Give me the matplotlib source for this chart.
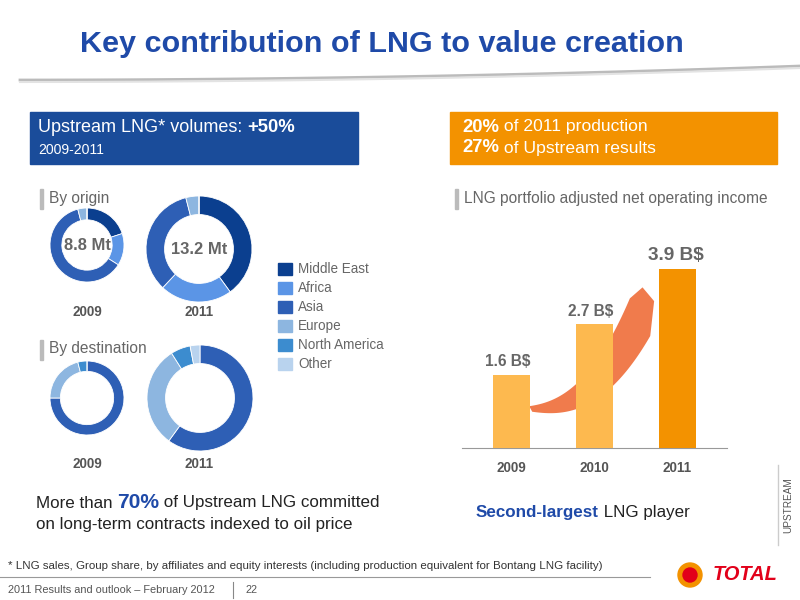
import numpy as np
import matplotlib.pyplot as plt
from matplotlib.patches import Rectangle, Polygon

plt.rcParams['font.family'] = ['Liberation Sans', 'DejaVu Sans']

# donut data (shares, clockwise from top)
regions = ["Middle East", "Africa", "Asia", "Europe", "North America", "Other"]
region_colors = ["#0B3F8F", "#5B95E6", "#2E5FB5", "#8DB6E0", "#3C8CCF", "#B9D3EE"]
origin_2009 = [20, 14, 62, 4, 0, 0]
origin_2011 = [40, 22, 34, 4, 0, 0]
dest_2009 = [0, 0, 75, 21, 4, 0]
dest_2011 = [0, 0, 60, 31, 6, 3]

# bar data
years = ["2009", "2010", "2011"]
income = [1.6, 2.7, 3.9]
income_labels = ["1.6 B$", "2.7 B$", "3.9 B$"]
bar_colors = ["#FDB94F", "#FDB94F", "#F39200"]

fig = plt.figure(figsize=(8, 6), dpi=100)
ax = fig.add_axes([0, 0, 1, 1])
ax.set_xlim(0, 800)
ax.set_ylim(600, 0)
ax.axis("off")
renderer = fig.canvas.get_renderer()


def box(x, y, w, h):
    return fig.add_axes([x / 800, 1 - (y + h) / 600, w / 800, h / 600])


def px(s):
    return s * 0.72


def seq(x, y, parts):
    # parts: (text, size_px, color, bold) drawn one after another
    for s, size, c, bold in parts:
        t = ax.text(x, y, s, fontsize=px(size), color=c, va="center",
                    fontweight="bold" if bold else "normal")
        bb = t.get_window_extent(renderer)
        x += bb.width


# header
ax.text(80, 44, "Key contribution of LNG to value creation", fontsize=px(30.5),
        color="#1F4AA8", fontweight="bold", va="center")
t = np.linspace(0, 1, 100)
ax.plot(20 + t * 780, 80 - 14 * t ** 2, color="#BBBBBB", lw=2)
ax.plot(20 + t * 780, 82 - 14 * t ** 2, color="#E3E3E3", lw=1.5)

# top boxes
ax.add_patch(Rectangle((30, 112), 328, 52, color="#1A4C9A"))
seq(38, 127, [("Upstream LNG* volumes: ", 18, "white", False), ("+50%", 18.5, "white", True)])
ax.text(38, 150, "2009-2011", fontsize=px(14), color="white", va="center")
ax.add_patch(Rectangle((450, 112), 327, 52, color="#F39200"))
seq(462, 127, [("20%", 18.5, "white", True), (" of 2011 production", 17.5, "white", False)])
seq(462, 148, [("27%", 18.5, "white", True), (" of Upstream results", 17.5, "white", False)])

# section labels
for x, y, s in [(40, 198, "By origin"), (40, 349, "By destination"),
                (455, 198, "LNG portfolio adjusted net operating income")]:
    ax.add_patch(Rectangle((x, y - 9), 3, 20, color="#BBBBBB"))
    ax.text(x + 9, y, s, fontsize=px(15.5), color="#666666", va="center")


def donut(cx, cy, r, vals, hole, label=None):
    a = box(cx - r, cy - r, 2 * r, 2 * r)
    a.pie(vals, colors=region_colors, startangle=90, counterclock=False, radius=1,
          wedgeprops=dict(width=1 - hole, edgecolor="white", linewidth=0.6))
    a.set_xlim(-1, 1)
    a.set_ylim(-1, 1)
    a.axis("off")
    if label:
        a.text(0, 0, label, ha="center", va="center", fontsize=px(16.5),
               fontweight="bold", color="#666666")


donut(87, 245, 37, origin_2009, 0.68, "8.8 Mt")
donut(199, 249, 53, origin_2011, 0.65, "13.2 Mt")
donut(87, 398, 37, dest_2009, 0.72)
donut(200, 398, 53, dest_2011, 0.65)
for x, y in [(87, 312), (199, 312), (87, 464), (199, 464)]:
    ax.text(x, y, "2009" if x < 150 else "2011", ha="center", va="center",
            fontsize=px(13.5), fontweight="bold", color="#555555")

# legend
for i, (name, c) in enumerate(zip(regions, region_colors)):
    y = 269 + i * 19
    ax.add_patch(Rectangle((278, y - 6), 14, 12, color=c))
    ax.text(298, y, name, fontsize=px(13.5), color="#666666", va="center")

# bar chart
bx = box(462, 230, 265, 218)
xs = np.arange(len(years))
bx.bar(xs, income, width=0.45, color=bar_colors, zorder=3)
for xi, v, s in zip(xs, income, income_labels):
    big = xi == 2
    bx.text(xi - (0.02 if big else 0.05), v + 0.12, s, ha="center", va="bottom",
            fontsize=px(19 if big else 15.5), fontweight="bold", color="#666666")
# swoosh arrow
u = np.linspace(0, 1, 60)
xc = 0.23 + u * 1.32
yc = 0.85 + 2.0 * u ** 2.4
wd = 0.06 + 0.35 * u
upper = np.column_stack([xc - wd * 0.3, yc + wd])
lower = np.column_stack([xc + wd * 0.3, yc - wd])
pts = np.vstack([upper, [[1.58, 3.5], [1.72, 3.2]], lower[::-1]])
bx.add_patch(Polygon(pts, closed=True, color="#F07B4C", zorder=2, lw=0))
bx.set_xlim(-0.6, 2.6)
bx.set_ylim(0, 4.75)
for s in ["top", "right", "left"]:
    bx.spines[s].set_visible(False)
bx.spines["bottom"].set_color("#999999")
bx.set_yticks([])
bx.set_xticks(xs)
bx.set_xticklabels(years, fontsize=px(13.5), fontweight="bold", color="#555555")
bx.tick_params(length=0, pad=9)

# bottom statements
seq(36, 503, [("More than ", 17, "#222222", False), ("70%", 21, "#1F4AA8", True),
              (" of Upstream LNG committed", 17, "#222222", False)])
ax.text(36, 525, "on long-term contracts indexed to oil price", fontsize=px(17),
        color="#222222", va="center")
seq(476, 513, [("Second-largest", 17, "#1F4AA8", True), (" LNG player", 17, "#222222", False)])
ax.text(788, 505, "UPSTREAM", rotation=90, fontsize=px(10), color="#555555",
        ha="center", va="center")
ax.plot([778, 778], [465, 545], color="#CCCCCC", lw=1)

# footnote and footer
ax.text(8, 566, "* LNG sales, Group share, by affiliates and equity interests (including production "
        "equivalent for Bontang LNG facility)", fontsize=px(11.5), color="#333333", va="center")
ax.plot([0, 650], [577, 577], color="#999999", lw=0.8)
ax.text(8, 590, "2011 Results and outlook \u2013 February 2012", fontsize=px(11), color="#555555",
        va="center")
ax.plot([233, 233], [582, 598], color="#888888", lw=0.8)
ax.text(245, 590, "22", fontsize=px(11), color="#555555", va="center")
ax.text(745, 575, "TOTAL", fontsize=px(20), color="#E2001A", fontweight="bold",
        ha="center", va="center", fontstyle="italic")
ax.add_patch(plt.Circle((690, 575), 12, color="#F39200"))
ax.add_patch(plt.Circle((690, 575), 7, color="#E2001A"))

fig.savefig("out.png", dpi=100)
